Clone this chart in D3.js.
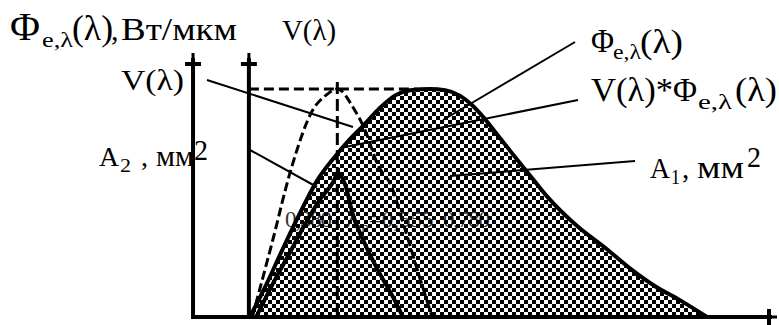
<!DOCTYPE html>
<html>
<head>
<meta charset="utf-8">
<script src="https://cdn.jsdelivr.net/npm/d3@7"></script>
<style>
  body { margin: 0; background: #fff; }
  svg { display: block; }
  text { font-family: "Liberation Serif", "Times New Roman", serif; fill: #000; }
</style>
</head>
<body>
<svg id="chart" width="779" height="325"></svg>
<script>
// Relative spectral luminous efficiency V(λ), λ in µm
const lambdaV = [0.38, 0.42, 0.46, 0.505, 0.53, 0.555, 0.59, 0.61, 0.64, 0.665, 0.695, 0.725, 0.75];
const valuesV = [0, 0.32, 0.65, 0.91, 0.97, 1, 0.91, 0.83, 0.66, 0.58, 0.38, 0.17, 0];

// Spectral radiant flux Φe,λ(λ), normalised to its maximum
const lambdaPhi = [0.375, 0.406, 0.443, 0.478, 0.513, 0.550, 0.581, 0.608, 0.643, 0.674, 0.705, 0.746,
                   0.777, 0.808, 0.832, 0.855, 0.884, 0.917, 0.952, 0.987, 1.048, 1.110, 1.158, 1.209, 1.260, 1.316];
const valuesPhi = [0, 0.130, 0.300, 0.455, 0.597, 0.703, 0.780, 0.838, 0.918, 0.972, 0.995, 1,
                   0.995, 0.970, 0.930, 0.878, 0.800, 0.712, 0.620, 0.528, 0.400, 0.297, 0.212, 0.135, 0.074, 0];

// Product V(λ)*Φe,λ(λ)
const lambdaVPhi = [0.388, 0.427, 0.458, 0.488, 0.519, 0.546, 0.556, 0.571, 0.587, 0.612, 0.643, 0.674, 0.690];
const valuesVPhi = [0, 0.165, 0.285, 0.405, 0.515, 0.590, 0.629, 0.581, 0.450, 0.319, 0.188, 0.070, 0];

// Wavelength marks written inside the area
const markLabels = ["0,380", "0,555", "0,780"];
const lambdaMax = 0.555;

const svg = d3.select("#chart");
const x = d3.scaleLinear().domain([0.26, 1.46]).range([194, 777]);
const y = d3.scaleLinear().domain([0, 1]).range([317, 89]);

const zip = (xs, ys) => xs.map((l, i) => ({ l, v: ys[i] }));
const dataV = zip(lambdaV, valuesV);
const dataPhi = zip(lambdaPhi, valuesPhi);
const dataVPhi = zip(lambdaVPhi, valuesVPhi);

// checkerboard hatch
const defs = svg.append("defs");
const pat = defs.append("pattern").attr("id", "checker")
  .attr("width", 8).attr("height", 8).attr("patternUnits", "userSpaceOnUse");
pat.append("rect").attr("width", 4).attr("height", 4).attr("fill", "#000");
pat.append("rect").attr("x", 4).attr("y", 4).attr("width", 4).attr("height", 4).attr("fill", "#000");

const line = d3.line().x(d => x(d.l)).y(d => y(d.v)).curve(d3.curveMonotoneX);
const area = d3.area().x(d => x(d.l)).y0(y(0)).y1(d => y(d.v)).curve(d3.curveMonotoneX);

// hatched area under Φe,λ(λ)
svg.append("path").datum(dataPhi).attr("d", area)
  .attr("fill", "url(#checker)").attr("shape-rendering", "crispEdges");

// wavelength marks over the hatch
const marks = svg.append("g").attr("font-size", 23).attr("opacity", 0.8)
  .style("fill", "#333");
marks.append("text").attr("x", 285).attr("y", 227).attr("textLength", 47).text(markLabels[0]);
const lm = marks.append("text").attr("x", 346).attr("y", 227);
lm.append("tspan").text("λ");
lm.append("tspan").attr("font-size", 15).attr("dy", 5).text("m");
lm.append("tspan").attr("dy", -5).text("=" + markLabels[1]);
marks.append("text").attr("x", 443).attr("y", 227).attr("textLength", 47).text(markLabels[2]);

// curves
svg.append("path").datum(dataPhi).attr("d", line)
  .attr("fill", "none").attr("stroke", "#000").attr("stroke-width", 4);
svg.append("path").datum(dataVPhi).attr("d", line)
  .attr("fill", "none").attr("stroke", "#000").attr("stroke-width", 4);
svg.append("path").datum(dataV).attr("d", line)
  .attr("fill", "none").attr("stroke", "#000").attr("stroke-width", 3)
  .attr("stroke-dasharray", "9,4");

// dashed guides at the maxima
const axis2 = x(0.373);
svg.append("line")
  .attr("x1", axis2).attr("x2", x(0.72)).attr("y1", y(1)).attr("y2", y(1))
  .attr("stroke", "#000").attr("stroke-width", 3).attr("stroke-dasharray", "10,5");
svg.append("line")
  .attr("x1", x(lambdaMax)).attr("x2", x(lambdaMax)).attr("y1", y(1) - 7).attr("y2", y(0))
  .attr("stroke", "#000").attr("stroke-width", 3).attr("stroke-dasharray", "12,5");

// axes with arrowheads
const axes = svg.append("g").attr("fill", "#000").attr("stroke", "#000");
const axis1 = x(0.258);
[axis1, axis2].forEach(ax => {
  axes.append("line").attr("x1", ax).attr("x2", ax).attr("y1", y(0) + 2).attr("y2", 58)
    .attr("stroke-width", 4);
  axes.append("path").attr("stroke", "none")
    .attr("d", `M${ax - 1.5},53 H${ax + 1.5} V62 H${ax + 8} V66 H${ax - 8} V62 H${ax - 1.5} Z`);
});
const yb = y(0);
axes.append("line").attr("x1", axis1 - 2).attr("x2", 772).attr("y1", yb).attr("y2", yb)
  .attr("stroke-width", 4);
axes.append("path").attr("stroke", "none")
  .attr("d", `M777,${yb - 1.5} V${yb + 1.5} H771 V${yb + 8} H767 V${yb - 8} H771 V${yb - 1.5} Z`);

// leader lines
const leaders = [
  [207, 80, 353, 127],
  [250, 150, 317, 187],
  [575, 42, 443, 120],
  [578, 100, 340, 148],
  [635, 161, 450, 176]
];
svg.append("g").selectAll("line").data(leaders).join("line")
  .attr("x1", d => d[0]).attr("y1", d => d[1]).attr("x2", d => d[2]).attr("y2", d => d[3])
  .attr("stroke", "#000").attr("stroke-width", 2);

// text runs: string, x, baseline, size, optional width
function run(s, x0, yb0, size, w) {
  const t = svg.append("text").attr("x", x0).attr("y", yb0).attr("font-size", size).text(s);
  if (w) t.attr("textLength", w).attr("lengthAdjust", "spacingAndGlyphs");
  return t;
}
// axis titles
run("Φ", 10, 40, 40, 30);
run("e,λ", 42, 47, 20, 31);
run("(λ)", 72, 40, 35, 41);
run(",", 111, 40, 30);
run("Вт/мкм", 121, 40, 31, 116);
run("V(λ)", 282, 40, 29, 54);

// left callouts
run("V(λ)", 121, 90, 30, 63);
run("A", 99, 166, 28, 20);
run("2", 120, 172, 19, 11);
run(",", 141, 166, 28);
run("мм", 156, 166, 29, 38);
run("2", 194, 160, 29, 14);

// right callouts
run("Φ", 591, 52, 33, 23);
run("e,λ", 613, 59, 20, 28);
run("(λ)", 640, 53, 34, 43);
run("V(λ)*", 591, 101, 33, 82);
run("Φ", 673, 101, 33, 24);
run("e,λ", 698, 109, 20, 34);
run("(λ)", 735, 101, 34, 42);
run("A", 650, 178, 29, 20);
run("1", 671, 184, 20, 9);
run(",", 682, 178, 29);
run("мм", 697, 178, 31, 47);
run("2", 747, 167, 29, 14);
</script>
</body>
</html>
